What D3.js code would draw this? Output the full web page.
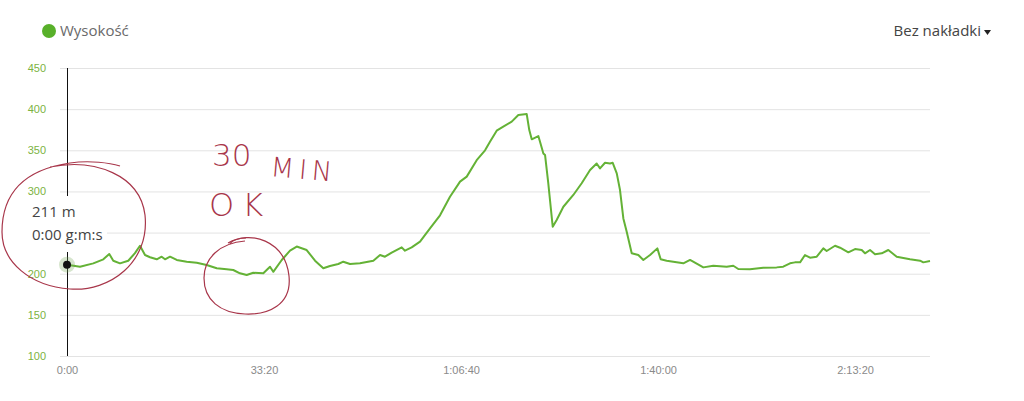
<!doctype html>
<html>
<head>
  <meta charset="utf-8" />
  <script src="https://cdnjs.cloudflare.com/ajax/libs/d3/7.8.5/d3.min.js"></script>
  <style>
  body{
    margin: 0;
    background: #fff;
    font-family: "Open Sans", "Segoe UI", sans-serif;
  }
  .grid line{ stroke: #e3e3e3; }
  .grid .domain{ display: none; }
  .yaxis text{ fill: #7cb342; font-size: 11px; }
  .xaxis text{ fill: #8a8a8a; font-size: 11px; }
  .scribble{ fill: none; stroke: #a8364a; stroke-width: 1.2; }
  .scribble-text{ fill: #a8364a; font-family: "DejaVu Sans", sans-serif; font-weight: 200; }
  </style>
</head>
<body>
  <div id="chart"></div>
  <script>
  // czas w sekundach od startu
  var times = [0, 132, 267, 369, 429, 470, 538, 622, 690, 741, 792, 843, 911, 961, 995, 1046, 1114, 1215, 1317, 1418,
    1520, 1621, 1688, 1756, 1824, 1891, 1993, 2061, 2094, 2180, 2264, 2332, 2433, 2518, 2602, 2670, 2754, 2805, 2873, 2974,
    3110, 3178, 3228, 3296, 3398, 3431, 3499, 3584, 3685, 3787, 3888, 3990, 4058, 4159, 4244, 4294, 4362, 4429, 4515, 4582,
    4667, 4693, 4718, 4785, 4802, 4836, 4853, 4886, 4931, 4971, 5039, 5140, 5225, 5310, 5377, 5411, 5462, 5513, 5540, 5581,
    5614, 5648, 5682, 5733, 5800, 5851, 5919, 5993, 6027, 6088, 6155, 6257, 6325, 6460, 6561, 6697, 6764, 6815, 6933, 7068,
    7204, 7271, 7340, 7390, 7442, 7492, 7543, 7611, 7678, 7712, 7797, 7848, 7932, 8000, 8068, 8101, 8152, 8203, 8271, 8338,
    8423, 8558, 8660, 8693, 8761];
  // wysokość w metrach
  var elevation = [211, 208.5, 212.6, 217.5, 224, 215.8, 212.6, 215.8, 225, 234, 222.7, 220, 217.5, 220.7, 217.5, 220.7, 216.7, 214.6, 213.4, 210.6,
    206.6, 205.4, 204.5, 200.5, 198.4, 201.2, 200.5, 208.5, 202.3, 216.7, 228, 233, 228.8, 215.8, 206.6, 209.4, 211.8, 214.6, 211.8, 212.6,
    215.8, 222.7, 220.7, 225.5, 232, 228, 232, 239, 255, 271, 293.6, 311.9, 318, 338, 350, 360.4, 373.8, 378.7, 384.8, 392.9,
    394, 374.6, 363.3, 367.3, 360.4, 346.2, 344.3, 309.9, 257.1, 265.3, 281.4, 295.7, 309.9, 326, 334, 328, 334.8, 334, 334.8, 322,
    301.7, 267.2, 251, 224.8, 222.7, 216.7, 222.7, 230.8, 217.5, 215.8, 214.6, 212.6, 216.7, 207.7, 209.7, 208.5, 209.7, 205.7, 205.4, 207.3,
    207.7, 208.5, 212.6, 213.8, 213.8, 222.7, 219.5, 220.7, 230.8, 227.6, 234, 231.6, 226, 230, 228.8, 224.8, 228.8, 223.6, 224.8, 228.8,
    220.7, 217.5, 215.8, 213.8, 215.4];
  var yTicks = [100, 150, 200, 250, 300, 350, 400, 450];
  var xTicks = [0, 2000, 4000, 6000, 8000];
  var seriesName = 'Wysokość';
  var overlayLabel = 'Bez nakładki';
  var hoverIndex = 0;

  var width = 1024, height = 401;
  var plotLeft = 67, plotRight = 930, plotTop = 68, plotBottom = 356, gridStart = 60;

  var svg = d3.select('#chart').append('svg')
    .attr('width', width)
    .attr('height', height);

  var x = d3.scaleLinear().domain([0, d3.max(times)]).range([plotLeft, plotRight]);
  var y = d3.scaleLinear().domain([100, 450]).range([plotBottom, plotTop]);

  function fmtTime(s){
    var h = Math.floor(s / 3600), m = Math.floor((s % 3600) / 60), sec = Math.round(s % 60);
    var mm = (h > 0 && m < 10 ? '0' : '') + m;
    var ss = (sec < 10 ? '0' : '') + sec;
    return h > 0 ? h + ':' + mm + ':' + ss : mm + ':' + ss;
  }

  // siatka + etykiety osi Y
  svg.append('g')
    .attr('class', 'grid yaxis')
    .attr('transform', 'translate(' + plotRight + ',0)')
    .call(d3.axisLeft(y).tickValues(yTicks).tickSize(plotRight - gridStart).tickPadding(14))
    .selectAll('text').attr('x', -(plotRight - gridStart) - 14);

  svg.append('g')
    .attr('class', 'grid xaxis')
    .attr('transform', 'translate(0,' + plotBottom + ')')
    .call(d3.axisBottom(x).tickValues(xTicks).tickSize(0).tickPadding(10).tickFormat(fmtTime));

  // legenda
  svg.append('circle').attr('cx', 49).attr('cy', 31).attr('r', 7).attr('fill', '#58b02a');
  svg.append('text').attr('x', 60).attr('y', 36).attr('fill', '#6a6a6a')
    .style('font-size', '15px').text(seriesName);

  svg.append('text').attr('x', 981).attr('y', 36).attr('text-anchor', 'end').attr('fill', '#444')
    .style('font-size', '15px').text(overlayLabel);
  svg.append('path').attr('d', 'M984,30 L991,30 L987.5,35 Z').attr('fill', '#222');

  // linia wysokości
  var data = times.map(function(t, i){ return { t: t, v: elevation[i] }; });
  var line = d3.line()
    .x(function(d){ return x(d.t); })
    .y(function(d){ return y(d.v); });

  svg.append('path')
    .datum(data)
    .attr('fill', 'none')
    .attr('stroke', '#64b236')
    .attr('stroke-width', 2)
    .attr('stroke-linejoin', 'round')
    .attr('d', line);

  // kursor
  var hp = data[hoverIndex];
  svg.append('line')
    .attr('x1', x(hp.t) + 0.5).attr('x2', x(hp.t) + 0.5)
    .attr('y1', plotTop).attr('y2', plotBottom)
    .attr('stroke', '#111').attr('stroke-width', 1);
  svg.append('circle').attr('cx', x(hp.t)).attr('cy', y(hp.v)).attr('r', 8).attr('fill', 'rgba(120,170,90,0.3)');
  svg.append('circle').attr('cx', x(hp.t)).attr('cy', y(hp.v)).attr('r', 4).attr('fill', '#111');

  // dymek
  svg.append('rect').attr('x', 20).attr('y', 196).attr('width', 87).attr('height', 56).attr('fill', '#fff');
  svg.append('text').attr('x', 32).attr('y', 217).attr('fill', '#444').style('font-size', '15px')
    .text(Math.round(hp.v) + ' m');
  svg.append('text').attr('x', 32).attr('y', 240).attr('fill', '#444').style('font-size', '15px')
    .text(fmtTime(hp.t) + ' g:m:s');

  // odręczne dopiski
  svg.append('path').attr('class', 'scribble')
    .attr('d', 'M50,167 C95,158 140,175 145,215 C150,262 110,292 70,289 C30,286 2,262 2,232 C2,195 22,170 70,163 C90,160 110,163 120,166');
  svg.append('path').attr('class', 'scribble')
    .attr('d', 'M228,243 C250,230 285,240 289,276 C292,305 268,315 245,314 C220,313 204,300 204,278 C204,258 220,243 245,241');
  svg.append('path').attr('class', 'scribble')
    .attr('d', 'M230,244 C232,240 240,238 246,238');
  svg.append('text').attr('class', 'scribble-text').attr('x', 212).attr('y', 166).style('font-size', '31px').text('30');
  svg.append('text').attr('class', 'scribble-text').attr('x', 270).attr('y', 176).attr('transform', 'rotate(5,270,176)')
    .style('font-size', '27px').style('letter-spacing', '5px').text('MIN');
  svg.append('text').attr('class', 'scribble-text').attr('x', 209).attr('y', 216).style('font-size', '32px')
    .style('letter-spacing', '8px').text('OK');
  </script>
</body>
</html>
